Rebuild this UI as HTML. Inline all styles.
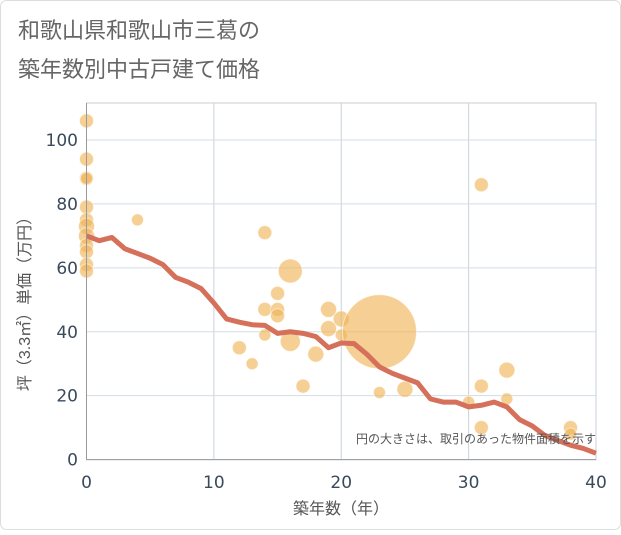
<!DOCTYPE html>
<html><head><meta charset="utf-8"><style>
body{margin:0;background:#fff;}
svg text{font-family:"Liberation Sans","Noto Sans CJK JP",sans-serif;}
svg text.tick{font-family:"DejaVu Sans",sans-serif;}
</style></head><body>
<svg width="621" height="530" viewBox="0 0 621 530">
<rect x="0.5" y="0.5" width="620" height="529" rx="6" fill="#fff" stroke="#ddd"/>
<text x="18" y="38" font-size="22" fill="#666">和歌山県和歌山市三葛の</text>
<text x="18" y="77" font-size="22" fill="#666">築年数別中古戸建て価格</text>
<g id="grid"></g>
<g id="bubbles"></g>
<g id="line"></g>
<g id="axes"></g>
<text x="596" y="443" font-size="12" fill="#555" text-anchor="end">円の大きさは、取引のあった物件面積を示す</text>
<text x="341" y="514" font-size="16" fill="#555" text-anchor="middle">築年数（年）</text>
<text transform="translate(30,300) rotate(-90)" font-size="16" fill="#555" text-anchor="middle">坪（3.3㎡）単価（万円）</text>
</svg>
<script>
const xTicks=[0,10,20,30,40];
const yTicks=[0,20,40,60,80,100];
const lineX=[0,1,2,3,4,5,6,7,8,9,10,11,12,13,14,15,16,17,18,19,20,21,22,23,24,25,26,27,28,29,30,31,32,33,34,35,36,37,38,39,40];
const lineY=[70,68.5,69.5,66,64.5,63,61,57,55.5,53.5,49,44,43,42.2,42,39.5,40,39.5,38.5,35,36.5,36.3,33,29,27,25.5,24,19,18,18,16.5,17,18,16.5,12.5,10.5,7.5,6,4.5,3.5,2];
const bubX=[0,0,0,0,0,0,0,0,0,0,0,0,4,14,16,14,15,15,15,14,16,12,13,17,18,19,19,20,20,23,23,25,30,31,31,31,33,33,38,38];
const bubY=[106,94,88,88,79,75,73,70,67,65,61,59,75,71,59,47,52,47,45,39,37,35,30,23,33,47,41,44,39,40,21,22,18,23,10,86,28,19,10,8];
const bubR=[7,7,7,6,7,7,8,8,7,7,7,7,6,7,12,7,7,7,7,6,10,7,6,7,8,8,8,8,6,37,6,8,6,7,7,7,8,6,7,6];
const NS="http://www.w3.org/2000/svg";
const X0=86.5,X1=596,Y0=459.6,YTOP=103;
const sx=v=>X0+(X1-X0)*v/40;
const sy=v=>Y0-v*3.196;
function mk(t,a,p){const e=document.createElementNS(NS,t);for(const k in a)e.setAttribute(k,a[k]);p.appendChild(e);return e;}
const grid=document.getElementById('grid'),axes=document.getElementById('axes');
mk('rect',{x:X0,y:YTOP,width:X1-X0,height:Y0-YTOP,fill:'none',stroke:'#ccc'},grid);
xTicks.forEach(t=>{const l=mk('line',{x1:sx(t),x2:sx(t),y1:YTOP,y2:Y0,stroke:'#c8d2dc'},grid);


const tx=mk('text',{x:sx(t),y:488,'font-size':17,fill:'#3a4a5c','text-anchor':'middle','class':'tick'},axes);tx.textContent=t;

});
yTicks.forEach(t=>{const l=mk('line',{x1:X0,x2:X1,y1:sy(t),y2:sy(t),stroke:'#d3dde6'},grid);


const tx=mk('text',{x:78,y:sy(t)+6,'font-size':17,fill:'#3a4a5c','text-anchor':'end','class':'tick'},axes);tx.textContent=t;

});
mk('line',{x1:X0,x2:X1,y1:Y0,y2:Y0,stroke:'#999'},axes);
mk('line',{x1:X0,x2:X0,y1:YTOP,y2:Y0,stroke:'#999'},axes);
const bg=document.getElementById('bubbles');
bubX.forEach((x,i)=>{const c=mk('circle',{cx:sx(x),cy:sy(bubY[i]),r:bubR[i],fill:'#f0b659','fill-opacity':0.65,stroke:'#fff','stroke-opacity':0.5},bg);

});
const p=mk('polyline',{points:lineX.map((x,i)=>sx(x)+','+sy(lineY[i])).join(' '),fill:'none',stroke:'#d5705a','stroke-width':5,'stroke-linejoin':'round'},document.getElementById('line'));


</script>
</body></html>
